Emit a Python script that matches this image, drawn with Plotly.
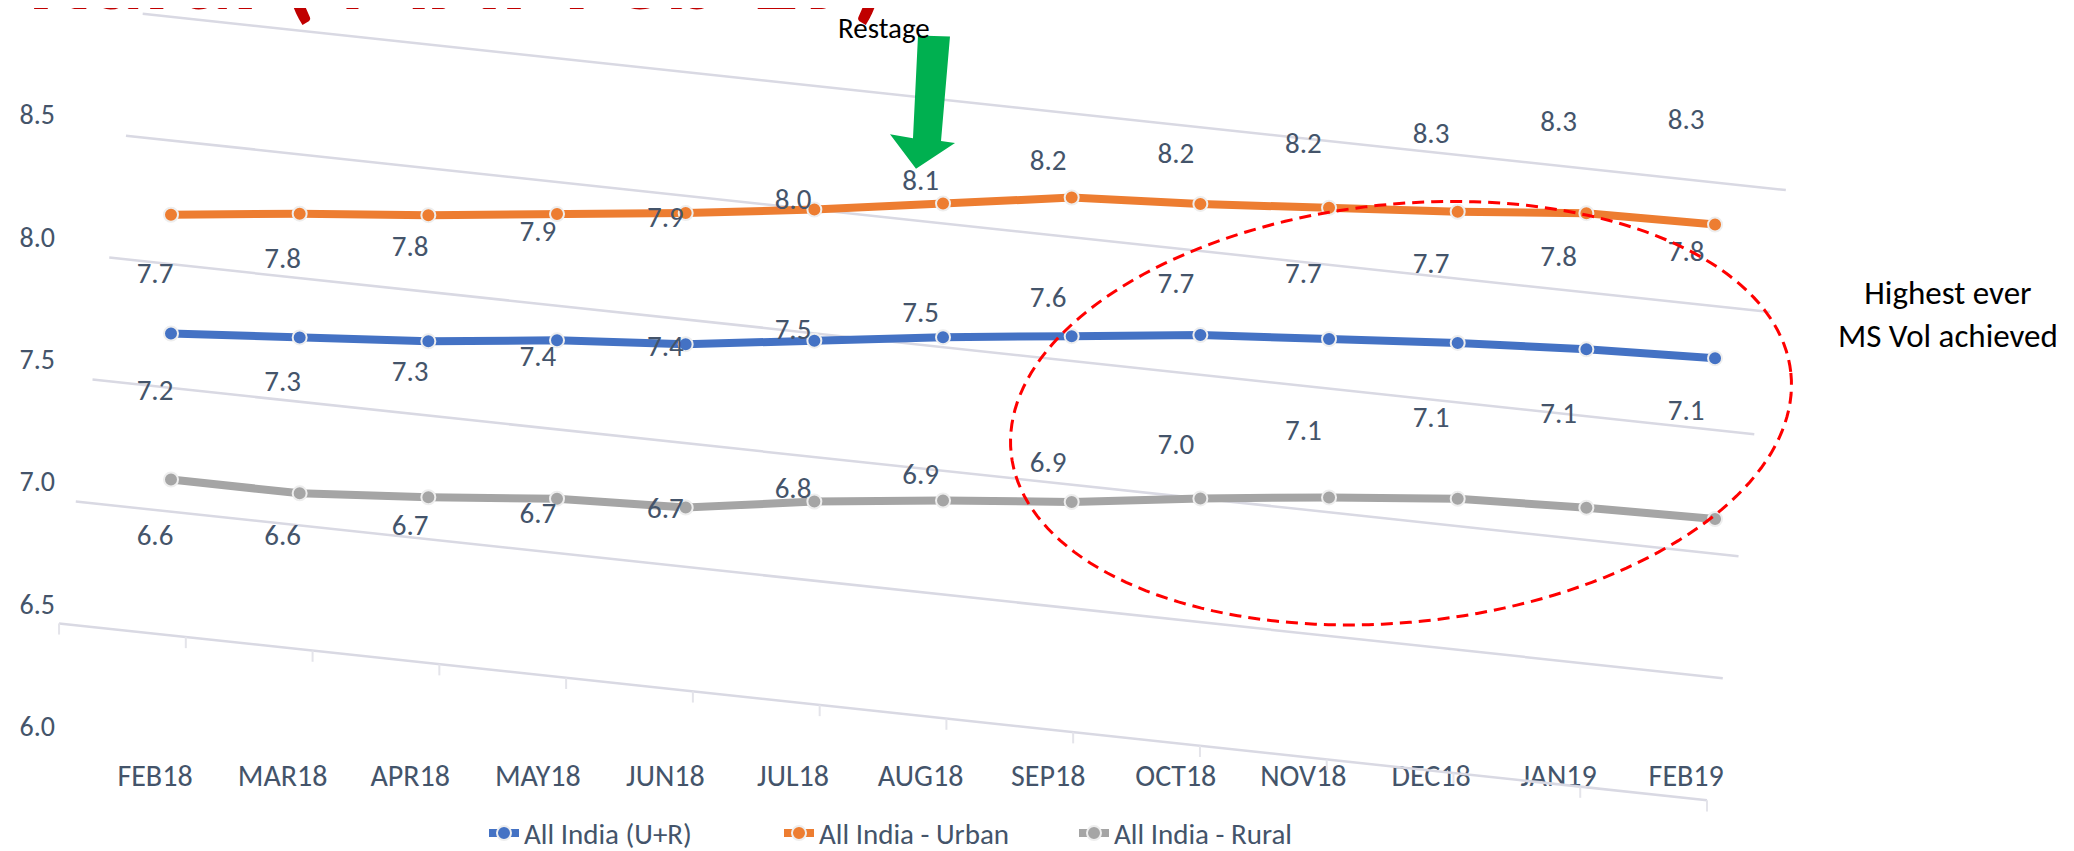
import numpy as np
import plotly.graph_objects as go

# ---------------- data ----------------
months = ["FEB18", "MAR18", "APR18", "MAY18", "JUN18", "JUL18", "AUG18",
          "SEP18", "OCT18", "NOV18", "DEC18", "JAN19", "FEB19"]
all_india = [7.22, 7.26, 7.30, 7.36, 7.40, 7.47, 7.54, 7.60, 7.66, 7.70, 7.74, 7.77, 7.79]
urban = [7.70, 7.76, 7.81, 7.87, 7.93, 8.00, 8.08, 8.16, 8.19, 8.23, 8.27, 8.32, 8.33]
rural = [6.63, 6.63, 6.67, 6.72, 6.74, 6.82, 6.88, 6.93, 7.00, 7.06, 7.11, 7.13, 7.14]
y_ticks = [6.0, 6.5, 7.0, 7.5, 8.0, 8.5]
series_names = ["All India (U+R)", "All India - Urban", "All India - Rural"]

# ---------------- styles ----------------
W, H = 2074, 851
FONT = "Calibri, Carlito, Lato, sans-serif"
TXT = "#44546A"
COLORS = ["#4472C4", "#ED7D31", "#A5A5A5"]
GRID = "#D9D9E3"
SHEAR = 0.0558          # perspective tilt of the plotted layer (value units per category)
X0_PX = 48              # left edge of plot domain (px)
AX_BOTTOM_PX = 758      # bottom of the flat axis domain (px)

def px(x):
    return x / W

def py(y):
    return 1 - y / H

def xrange_for(first_px, step_px):
    r0 = -(first_px - X0_PX) / step_px
    return [r0, r0 + (W - X0_PX) / step_px]

def yrange_for(top_value_px, ref_value, unit_px, bottom_px):
    r1 = ref_value + top_value_px / unit_px
    return [r1 - bottom_px / unit_px, r1]

fig = go.Figure()
idx = list(range(len(months)))

# invisible anchor trace for the flat axes (keeps the tick-label subplot alive)
fig.add_trace(go.Scatter(x=[idx[0]], y=[y_ticks[0]], mode="markers", marker=dict(opacity=0),
                         xaxis="x", yaxis="y", showlegend=False, hoverinfo="skip"))

# tilted gridlines of the plotted layer
gx, gy = [], []
for g in y_ticks:
    x0 = -0.22 - 0.26 * (8.5 - g)
    x1 = 12.55 - 0.245 * (8.5 - g)
    gx += [x0, x1, None]
    gy += [g - SHEAR * x0, g - SHEAR * x1, None]
fig.add_trace(go.Scatter(x=gx, y=gy, mode="lines", line=dict(color=GRID, width=2.5),
                         xaxis="x2", yaxis="y2", showlegend=False, hoverinfo="skip"))

# tick marks on the tilted baseline
base = y_ticks[0]
x0 = -0.22 - 0.26 * (8.5 - base)
x1 = 12.55 - 0.245 * (8.5 - base)
tx, ty = [], []
for t in np.linspace(x0, x1, len(months) + 1):
    tx += [t, t, None]
    ty += [base - SHEAR * t, base - SHEAR * t - 0.045, None]
fig.add_trace(go.Scatter(x=tx, y=ty, mode="lines", line=dict(color="#E4E4EA", width=2),
                         xaxis="x2", yaxis="y2", showlegend=False, hoverinfo="skip"))

# series lines (tilted layer)
for name, vals, col in zip(series_names, [all_india, urban, rural], COLORS):
    w = [v - SHEAR * i for i, v in zip(idx, vals)]
    fig.add_trace(go.Scatter(
        x=idx, y=w, name=name, mode="lines+markers",
        line=dict(color=col, width=8),
        marker=dict(size=14, color=col, line=dict(color="#EEEEEE", width=2)),
        xaxis="x2", yaxis="y2"))

# data labels (flat layer)
for vals in [all_india, urban, rural]:
    fig.add_trace(go.Scatter(
        x=idx, y=vals, mode="text", texttemplate="%{y:.1f}",
        textposition="middle center", textfont=dict(size=29, color=TXT, family=FONT),
        xaxis="x3", yaxis="y3", showlegend=False, hoverinfo="skip"))

# ---------------- decorations ----------------
arrow = [(910, 28), (942, 29), (933, 135), (947, 137), (908, 163), (882, 128), (905, 132)]
path = "M " + " L ".join(f"{px(a):.5f},{py(b):.5f}" for a, b in arrow) + " Z"
fig.add_shape(type="path", path=path, xref="paper", yref="paper",
              fillcolor="#00B050", line=dict(width=0))

cx, cy, ra, rb, th = 1393, 411, 392, 212, np.deg2rad(-6)
t = np.linspace(0, 2 * np.pi, 181)
ex = cx + ra * np.cos(t) * np.cos(th) - rb * np.sin(t) * np.sin(th)
ey = cy + ra * np.cos(t) * np.sin(th) + rb * np.sin(t) * np.cos(th)
epath = "M " + " L ".join(f"{px(a):.5f},{py(b):.5f}" for a, b in zip(ex, ey)) + " Z"
fig.add_shape(type="path", path=epath, xref="paper", yref="paper",
              line=dict(color="#FF0000", width=3, dash="12px,7px"))

fig.add_annotation(text="<b>Rural ( MAT Feb 19)</b>", x=px(18), y=py(31), xref="paper", yref="paper",
                   xanchor="left", yanchor="bottom", showarrow=False,
                   font=dict(size=106, color="#C00000", family=FONT))
fig.add_annotation(text="Restage", x=px(876), y=py(20), xref="paper", yref="paper",
                   xanchor="center", yanchor="middle", showarrow=False,
                   font=dict(size=29, color="#000000", family=FONT))
fig.add_annotation(text="Highest ever<br>MS Vol achieved", x=px(1940), y=py(311),
                   xref="paper", yref="paper", xanchor="center", yanchor="middle",
                   showarrow=False, align="center",
                   font=dict(size=33, color="#000000", family=FONT))

# ---------------- layout ----------------
hidden = dict(visible=False, showgrid=False, zeroline=False)
fig.update_layout(
    width=W, height=H, margin=dict(l=0, r=0, t=0, b=0),
    paper_bgcolor="white", plot_bgcolor="rgba(0,0,0,0)",
    font=dict(family=FONT, color=TXT),
    xaxis=dict(domain=[px(X0_PX), 1], range=xrange_for(147, 127.6), tickvals=idx, ticktext=months,
               anchor="y", showgrid=False, zeroline=False, showline=False, ticks="",
               tickfont=dict(size=30, color=TXT), automargin=False),
    yaxis=dict(domain=[py(AX_BOTTOM_PX), 1], range=yrange_for(232, 8.0, 248.4, AX_BOTTOM_PX),
               tickvals=y_ticks, tickformat=".1f", anchor="x", side="left",
               showgrid=False, zeroline=False, showline=False, ticks="",
               tickfont=dict(size=28, color=TXT), automargin=False),
    xaxis2=dict(domain=[px(X0_PX), 1], anchor="y2", range=xrange_for(163, 128.67), **hidden),
    yaxis2=dict(domain=[0, 1], anchor="x2", range=yrange_for(134.4, 8.0, 251, H), **hidden),
    xaxis3=dict(domain=[px(X0_PX), 1], anchor="y3", range=xrange_for(147, 127.6), **hidden),
    yaxis3=dict(domain=[0, 1], anchor="x3", range=yrange_for(234 - 37, 8.0, 248.4, H), **hidden),
    legend=dict(orientation="h", x=px(476), xanchor="left", y=py(837), yanchor="middle",
                entrywidth=250, font=dict(size=29, color=TXT), bgcolor="rgba(0,0,0,0)"),
    hovermode=False,
)

fig.write_html("out.html")
